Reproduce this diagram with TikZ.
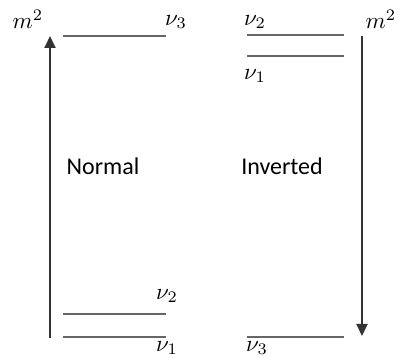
\documentclass[tikz,border=0pt]{standalone}
\usepackage{fontspec}
\setsansfont{Carlito}
\usetikzlibrary{arrows.meta}
\begin{document}
\begin{tikzpicture}[x=1pt,y=-1pt,
  level/.style={draw=black!60,line width=1.4pt},
  axis/.style={draw=black!80,line width=1.8pt,-{Triangle[length=12pt,width=11pt]}},
  lab/.style={inner sep=0pt,scale=2.3},
  word/.style={inner sep=0pt,font=\sffamily\fontsize{24}{28}\selectfont}]
\useasboundingbox (0,0) rectangle (402,358);
% normal ordering
\coordinate (nb) at (50,338);
\coordinate (nt) at (50,36);
\draw[axis] (nb) -- (nt);
\node[lab] (m2l) at (28,19) {$m^2$};
\coordinate (n3a) at (63,36); \coordinate (n3b) at (166,36);
\draw[level] (n3a) -- (n3b);
\node[lab] (nu3n) at (176,22) {$\nu_3$};
\coordinate (n2a) at (63,314); \coordinate (n2b) at (166,314);
\draw[level] (n2a) -- (n2b);
\node[lab] (nu2n) at (167,296) {$\nu_2$};
\coordinate (n1a) at (63,337); \coordinate (n1b) at (166,337);
\draw[level] (n1a) -- (n1b);
\node[lab] (nu1n) at (167,348) {$\nu_1$};
\node[word] (normal) at (103,166) {Normal};
% inverted ordering
\coordinate (it) at (362,36);
\coordinate (ib) at (362,336);
\draw[axis] (it) -- (ib);
\node[lab] (m2r) at (381,19) {$m^2$};
\coordinate (i2a) at (247,35); \coordinate (i2b) at (344,35);
\draw[level] (i2a) -- (i2b);
\node[lab] (nu2i) at (255,22) {$\nu_2$};
\coordinate (i1a) at (247,56); \coordinate (i1b) at (344,56);
\draw[level] (i1a) -- (i1b);
\node[lab] (nu1i) at (255,76) {$\nu_1$};
\coordinate (i3a) at (247,337); \coordinate (i3b) at (344,337);
\draw[level] (i3a) -- (i3b);
\node[lab] (nu3i) at (257,348) {$\nu_3$};
\node[word] (inverted) at (282,166) {Inverted};
\end{tikzpicture}
\end{document}
